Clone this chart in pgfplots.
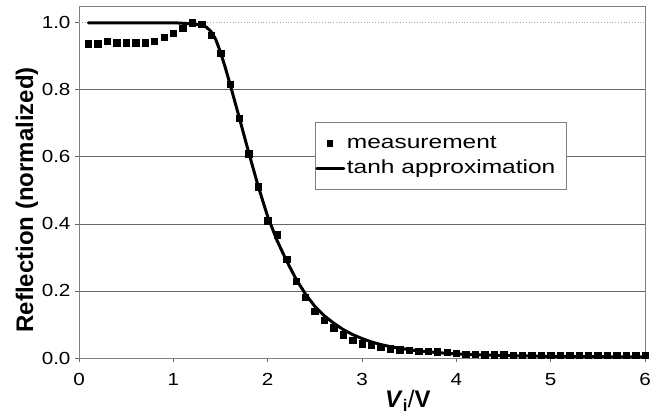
\documentclass[border=0pt]{standalone}
\usepackage{fontspec}
\setmainfont{Liberation Sans}
\newfontfamily\tickfont[FakeStretch=1.18]{Liberation Sans}
\newfontfamily\legfont[FakeStretch=1.29]{Liberation Sans}
\usepackage{pgfplots}
\pgfplotsset{compat=1.18}
\usepackage{pgfplotstable}

% measured reflection versus voltage
\pgfplotstableread{
V R
0.1 0.938
0.2 0.938
0.3 0.945
0.4 0.941
0.5 0.941
0.6 0.940
0.7 0.940
0.8 0.945
0.9 0.957
1.0 0.969
1.1 0.984
1.2 1.000
1.3 0.996
1.4 0.962
1.5 0.909
1.6 0.817
1.7 0.715
1.8 0.609
1.9 0.511
2.0 0.410
2.1 0.368
2.2 0.294
2.3 0.229
2.4 0.182
2.5 0.140
2.6 0.113
2.7 0.090
2.8 0.070
2.9 0.053
3.0 0.043
3.1 0.038
3.2 0.033
3.3 0.028
3.4 0.025
3.5 0.023
3.6 0.021
3.7 0.020
3.8 0.019
3.9 0.018
4.0 0.015
4.1 0.012
4.2 0.011
4.3 0.010
4.4 0.010
4.5 0.010
4.6 0.009
4.7 0.009
4.8 0.009
4.9 0.008
5.0 0.008
5.1 0.008
5.2 0.009
5.3 0.009
5.4 0.009
5.5 0.009
5.6 0.009
5.7 0.009
5.8 0.009
5.9 0.009
6.0 0.009
}\measured

% tanh fit
\pgfplotstableread{
V R
0.1 1.000
0.5 1.000
1.0 1.000
1.2 0.997
1.3 0.993
1.35 0.987
1.4 0.974
1.45 0.950
1.5 0.912
1.55 0.867
1.6 0.818
1.7 0.716
1.8 0.612
1.9 0.512
2.0 0.422
2.1 0.350
2.2 0.290
2.3 0.236
2.4 0.191
2.5 0.154
2.6 0.126
2.7 0.104
2.8 0.085
2.9 0.070
3.0 0.058
3.1 0.048
3.2 0.040
3.3 0.034
3.4 0.029
3.5 0.025
3.6 0.021
3.8 0.016
4.0 0.012
4.5 0.007
5.0 0.005
5.5 0.004
6.0 0.003
}\fitted

\begin{document}
\begin{tikzpicture}
\begin{axis}[
  name=ax,
  scale only axis,
  width=566bp, height=352bp,
  xmin=0, xmax=6, ymin=0, ymax=1.05,
  xtick={0,1,2,3,4,5,6},
  ytick={0,0.2,0.4,0.6,0.8},
  extra y ticks={1.0},
  extra y tick style={major grid style={gray!70, dotted, line width=0.8bp}},
  ymajorgrids,
  major grid style={gray!80!black, line width=0.8bp},
  axis line style={gray, line width=0.8bp},
  tick style={gray!80!black, line width=0.8bp},
  tick align=outside, tick pos=left,
  major tick length=4bp,
  clip=false,
  /pgf/number format/assume math mode=true,
  y tick label style={xshift=-1bp, /pgf/number format/.cd, fixed, fixed zerofill, precision=1},
  ticklabel style={font=\tickfont\fontsize{17.5bp}{20bp}\selectfont},
  x tick label style={yshift=-8bp},
  xlabel={\bfseries\itshape V\/\textsubscript{\upshape i}\upshape\mdseries/\bfseries V},
  ylabel={\bfseries Reflection (normalized)},
  every axis x label/.style={at={(axis description cs:0.581,0)}, anchor=center, yshift=-43bp,
    font=\fontsize{24bp}{28bp}\selectfont},
  every axis y label/.style={at={(axis description cs:0,0.449)}, rotate=90, anchor=center, yshift=52bp,
    font=\fontsize{24bp}{28bp}\selectfont},
  legend cell align=left,
  legend style={
    at={(axis description cs:0.417,0.670)}, anchor=north west,
    draw=gray, line width=0.8bp, fill=white,
    inner xsep=0bp, inner ysep=8bp,
    font=\legfont\fontsize{19bp}{22bp}\selectfont,
    nodes={inner xsep=1.5bp, inner ysep=3.5bp, text height=14bp, text depth=4.5bp},
    /tikz/every even column/.append style={column sep=0bp},
  },
]
\addplot[only marks, mark=square*, mark size=3.2bp, black,
  legend image code/.code={\draw[black] plot[mark=square*, mark size=2.6bp] coordinates {(13bp,0bp)};}]
  table[x=V, y=R] {\measured};
\addlegendentry{measurement}
\addplot[black, line width=3bp, line join=round, line cap=round,
  legend image code/.code={\draw[black, line width=3bp] (0bp,0bp) -- (27bp,0bp);}]
  table[x=V, y=R] {\fitted};
\addlegendentry{tanh approximation\hspace*{10bp}}
\end{axis}
\pgfresetboundingbox
\path ([xshift=-79bp,yshift=-61bp]ax.south west) rectangle ([xshift=19bp,yshift=6bp]ax.north east);
\end{tikzpicture}
\end{document}
